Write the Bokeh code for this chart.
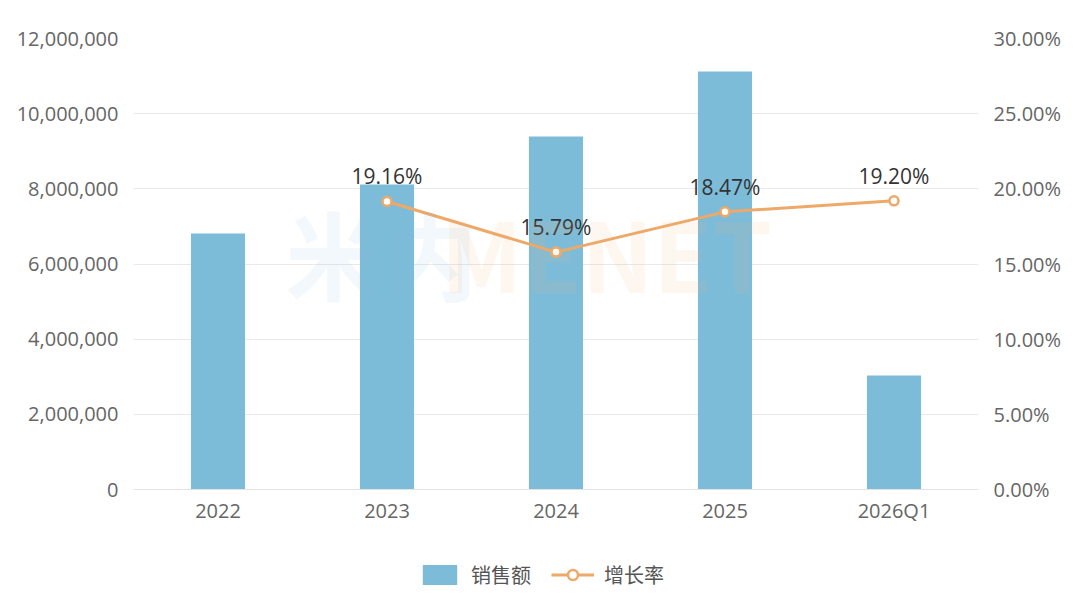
from bokeh.plotting import figure
from bokeh.models import (Range1d, FactorRange, LinearAxis, NumeralTickFormatter,
                          Legend, LegendItem, FixedTicker, Label)
from bokeh.core.properties import value
from bokeh.embed import file_html
from bokeh.resources import INLINE

categories = ["2022", "2023", "2024", "2025", "2026Q1"]
sales = [6810000, 8115000, 9390000, 11120000, 3030000]
growth_cats = ["2023", "2024", "2025", "2026Q1"]
growth = [0.1916, 0.1579, 0.1847, 0.1920]
growth_labels = ["19.16%", "15.79%", "18.47%", "19.20%"]
left_ticks = [0, 2e6, 4e6, 6e6, 8e6, 10e6, 12e6]
right_ticks = [0, .05, .10, .15, .20, .25, .30]

FONT = "Open Sans"
CJK = "Noto Sans CJK SC"
BAR = "#7dbcd9"
LINE = "#eea868"

# frame: top at 38px, zero line at 489px, frame extends to 600px (legend area below axis)
H = 600
TOP = 38
ZERO_PX = 489
below_frac = (H - ZERO_PX) / (ZERO_PX - TOP)
LMAX = 12e6
RMAX = 0.30

p = figure(width=1064, height=H, output_backend="svg", toolbar_location=None,
           x_range=FactorRange(*categories, range_padding=0),
           y_range=Range1d(-LMAX * below_frac, LMAX),
           min_border_left=133, min_border_right=81, min_border_top=TOP,
           min_border_bottom=0)
p.outline_line_color = None
p.background_fill_color = "white"
p.border_fill_color = "white"

p.extra_y_ranges = {"pct": Range1d(-RMAX * below_frac, RMAX)}

p.xgrid.grid_line_color = None
p.ygrid.grid_line_color = "#e9e9e9"
p.ygrid.grid_line_width = 1
p.ygrid.ticker = FixedTicker(ticks=left_ticks)

ya = p.yaxis[0]
ya.ticker = FixedTicker(ticks=left_ticks)
ya.formatter = NumeralTickFormatter(format="0,0")
ya.axis_line_color = None
ya.major_tick_line_color = None
ya.minor_tick_line_color = None
ya.major_label_text_font = FONT
ya.major_label_text_font_size = "20px"
ya.major_label_text_color = "#666666"
ya.major_label_standoff = 9

ra = LinearAxis(y_range_name="pct", ticker=FixedTicker(ticks=right_ticks),
                formatter=NumeralTickFormatter(format="0.00%"))
ra.axis_line_color = None
ra.major_tick_line_color = None
ra.minor_tick_line_color = None
ra.major_label_text_font = FONT
ra.major_label_text_font_size = "20px"
ra.major_label_text_color = "#666666"
ra.major_label_standoff = 9
p.add_layout(ra, "right")

xa = p.xaxis[0]
xa.fixed_location = 0
xa.axis_line_color = "#e3e3e3"
xa.major_tick_line_color = None
xa.minor_tick_line_color = None
xa.major_label_text_font = FONT
xa.major_label_text_font_size = "20px"
xa.major_label_text_color = "#666666"
xa.major_label_standoff = 1

# watermark
wm1 = Label(x=152, y=349, x_units="screen", y_units="screen", text="米内",
            text_font=CJK, text_font_size="96px", text_font_style="bold",
            text_color="#7dbcd9", text_alpha=0.10, text_baseline="middle")
wm2 = Label(x=307, y=349, x_units="screen", y_units="screen", text="MENET",
            text_font=CJK, text_font_size="96px", text_font_style="bold",
            text_color="#f5b070", text_alpha=0.10, text_baseline="middle")
p.add_layout(wm1)
p.add_layout(wm2)

bars = p.vbar(x=categories, top=sales, width=0.32, fill_color=BAR, line_color=None)
ln = p.line(x=growth_cats, y=growth, y_range_name="pct", line_color=LINE, line_width=3)
pts = p.scatter(x=growth_cats, y=growth, y_range_name="pct", size=9, fill_color="white",
                line_color=LINE, line_width=2.5)
p.text(x=growth_cats, y=growth, text=growth_labels, y_range_name="pct",
       text_font=value(FONT), text_font_size="21px", text_color="#333333",
       text_align="center", text_baseline="alphabetic", y_offset=-25)

legend = Legend(items=[LegendItem(label="销售额", renderers=[bars]),
                       LegendItem(label="增长率", renderers=[ln, pts])],
                orientation="horizontal", location=(285, 11),
                label_text_font=CJK, label_text_font_size="20px",
                label_text_color="#555555", glyph_width=43, glyph_height=25,
                label_standoff=10, spacing=20, border_line_color=None,
                background_fill_alpha=0, margin=0, padding=0)
p.add_layout(legend, "center")

open("out.html", "w").write(file_html(p, INLINE))
